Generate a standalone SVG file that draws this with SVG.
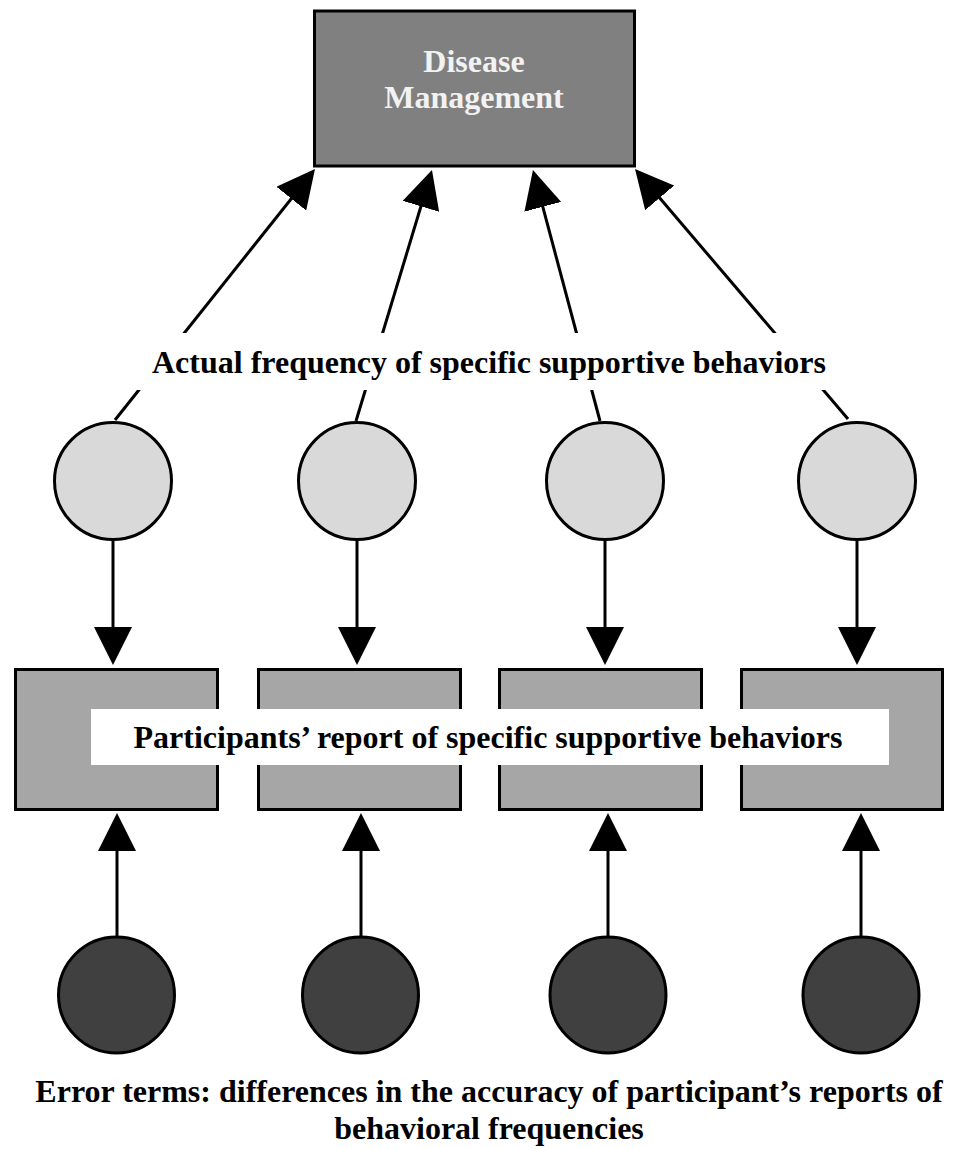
<svg xmlns="http://www.w3.org/2000/svg" width="953" height="1149" viewBox="0 0 953 1149">
<defs>
<style>
.lbl{font-family:"Liberation Serif","Times New Roman",serif;font-weight:bold;font-size:32px;text-anchor:middle;fill:#000}
.top{fill:#808080;stroke:#000;stroke-width:3}
.lat{fill:#d9d9d9;stroke:#000;stroke-width:3}
.obs{fill:#a6a6a6;stroke:#000;stroke-width:3}
.err{fill:#404040;stroke:#000;stroke-width:3}
.con{stroke:#000;stroke-width:3;fill:none;marker-end:url(#ah)}
</style>
<marker id="ah" viewBox="0 0 38 38" refX="34" refY="19" markerWidth="38" markerHeight="38" markerUnits="userSpaceOnUse" orient="auto">
<path d="M0,0 L38,19 L0,38 z" fill="#000"/>
</marker>
</defs>
<rect width="953" height="1149" fill="#fff"/>

<g id="connectors">
<line class="con" x1="115" y1="420" x2="312.5" y2="172.1"/>
<line class="con" x1="356" y1="421" x2="430.8" y2="173.8"/>
<line class="con" x1="600" y1="421" x2="534" y2="173.9"/>
<line class="con" x1="848" y1="419" x2="637.6" y2="172"/>
<line class="con" x1="113" y1="540" x2="113" y2="661"/>
<line class="con" x1="357" y1="540" x2="357" y2="661"/>
<line class="con" x1="605" y1="540" x2="605" y2="661"/>
<line class="con" x1="857" y1="540" x2="857" y2="661"/>
<line class="con" x1="117" y1="936" x2="117" y2="817"/>
<line class="con" x1="361" y1="936" x2="361" y2="817"/>
<line class="con" x1="608" y1="936" x2="608" y2="817"/>
<line class="con" x1="861" y1="936" x2="861" y2="817"/>
</g>

<g id="disease-management">
<rect class="top" x="314.5" y="11" width="320" height="155"/>
<text class="lbl" x="474" y="72" style="fill:#f2f2f2">Disease</text>
<text class="lbl" x="474" y="108" style="fill:#f2f2f2">Management</text>
</g>

<g id="actual-label">
<rect x="108" y="333" width="760" height="57" fill="#fff"/>
<text class="lbl" x="489" y="373">Actual frequency of specific supportive behaviors</text>
</g>

<g id="latent-1"><circle class="lat" cx="113" cy="481" r="58.5"/></g>
<g id="latent-2"><circle class="lat" cx="357" cy="481" r="58.5"/></g>
<g id="latent-3"><circle class="lat" cx="605" cy="481" r="58.5"/></g>
<g id="latent-4"><circle class="lat" cx="857" cy="481" r="58.5"/></g>

<g id="report-1"><rect class="obs" x="15.5" y="669.5" width="202" height="140"/></g>
<g id="report-2"><rect class="obs" x="258.5" y="669.5" width="202" height="140"/></g>
<g id="report-3"><rect class="obs" x="499.5" y="669.5" width="202" height="140"/></g>
<g id="report-4"><rect class="obs" x="741.5" y="669.5" width="201" height="140"/></g>

<g id="report-label">
<rect x="91" y="709" width="798" height="56" fill="#fff"/>
<text class="lbl" x="488" y="748">Participants’ report of specific supportive behaviors</text>
</g>

<g id="error-1"><circle class="err" cx="116.5" cy="995" r="58"/></g>
<g id="error-2"><circle class="err" cx="360.5" cy="995" r="58"/></g>
<g id="error-3"><circle class="err" cx="608" cy="995" r="58"/></g>
<g id="error-4"><circle class="err" cx="861" cy="995" r="58"/></g>

<g id="error-label">
<text class="lbl" x="489" y="1102">Error terms: differences in the accuracy of participant’s reports of</text>
<text class="lbl" x="489" y="1139">behavioral frequencies</text>
</g>
</svg>
